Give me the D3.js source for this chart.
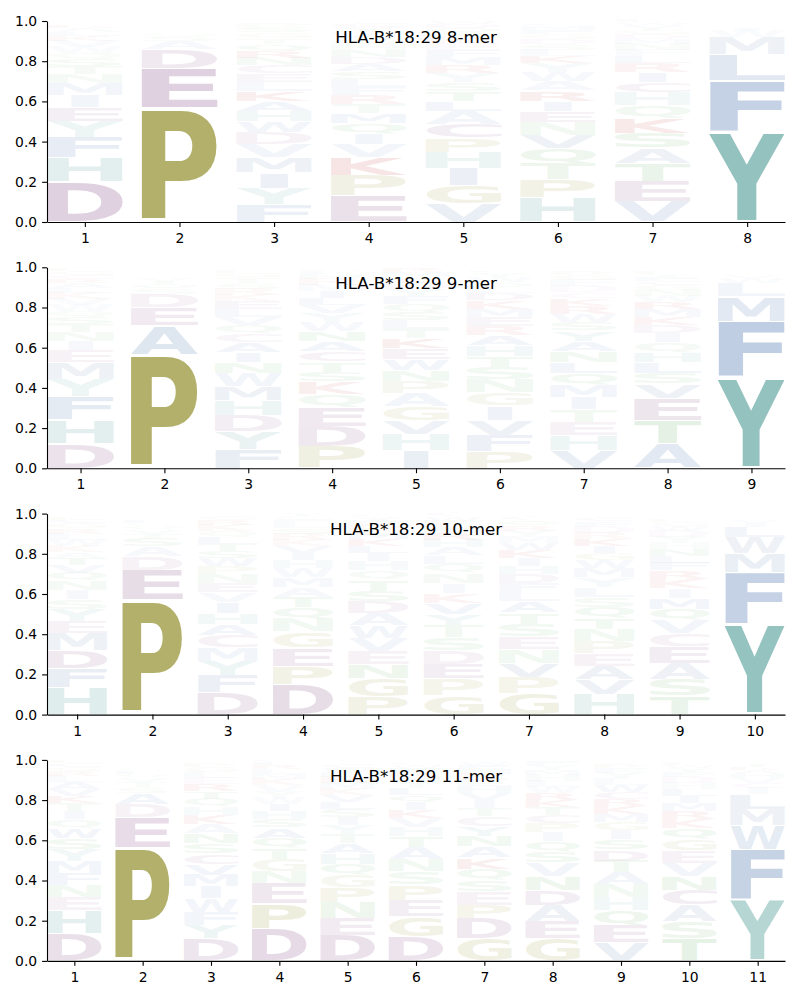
<!DOCTYPE html>
<html><head><meta charset="utf-8">
<script src="https://cdn.jsdelivr.net/npm/d3@7"></script>
<style>body{margin:0;background:#fff;} svg{display:block;}</style>
</head><body><svg id="chart" width="800" height="1000"></svg>
<script>
// ---------------- data ----------------
const titles = ["HLA-B*18:29 8-mer", "HLA-B*18:29 9-mer", "HLA-B*18:29 10-mer", "HLA-B*18:29 11-mer"];
const yTicks = [0, 0.2, 0.4, 0.6, 0.8, 1.0];

const letters8 = ["DHFYEIMNTSQWVKLARCGP", "PEDASQGTVLKRN", "FYIMVDWHAKLECNRQTGSP", "EPKVIQMTRFLSADNHGWYC",
  "VGIHPCALTSYRMFEKNQDW", "HPTQVNEIRAWYKLSDGFMC", "VETASKQHCIRLFNMDGYWP", "YFLMWIVAHCT"];
const heights8 = [
  [.20,.12,.10,.08,.07,.06,.06,.045,.04,.035,.03,.03,.03,.025,.02,.02,.015,.01,.01,.005],
  [.565,.20,.095,.04,.025,.015,.012,.01,.01,.008,.007,.007,.006],
  [.086,.082,.077,.075,.066,.058,.056,.052,.05,.05,.045,.042,.04,.037,.035,.033,.03,.028,.026,.022],
  [.13,.10,.09,.065,.055,.05,.05,.045,.045,.04,.04,.038,.037,.035,.033,.032,.03,.028,.026,.022],
  [.093,.09,.085,.08,.07,.068,.066,.05,.05,.045,.045,.04,.04,.035,.03,.03,.025,.025,.02,.015],
  [.12,.09,.08,.075,.068,.065,.055,.05,.05,.048,.045,.045,.035,.03,.03,.025,.025,.02,.02,.015],
  [.10,.10,.09,.078,.075,.074,.065,.065,.05,.05,.045,.035,.03,.03,.025,.025,.02,.02,.015,.015],
  [.45,.255,.13,.085,.03,.015,.01,.01,.005,.005,.005]
];

const letters9 = ["DHFYMEINTSQWVKLARCGP", "PAEDSQTVGLKRN", "FYDHMWNIACQVLEKRSTGP", "PDEQKSTCANWYVLIMHRFG",
  "IHVGAPNWEKTLSQFYDCMR", "PFVIGNSTHAREMKDLQWYC", "VHETIMQLNAYSWRKCDFGP", "ATEVSLHQIDKMRWNGCFYP", "YFMLWVIAHTC"];
const heights9 = [
  [.125,.118,.115,.085,.083,.06,.045,.045,.04,.035,.03,.03,.03,.03,.025,.025,.02,.02,.02,.015],
  [.565,.145,.09,.065,.03,.02,.015,.015,.012,.01,.008,.008,.007],
  [.095,.088,.08,.075,.068,.065,.055,.05,.05,.045,.04,.04,.04,.04,.03,.03,.03,.03,.02,.015],
  [.11,.10,.095,.065,.06,.05,.05,.05,.05,.05,.045,.045,.04,.035,.035,.03,.025,.03,.015,.015],
  [.09,.08,.07,.068,.065,.06,.055,.055,.052,.05,.045,.045,.042,.04,.038,.035,.032,.028,.025,.022],
  [.085,.08,.076,.07,.066,.065,.06,.055,.054,.05,.048,.045,.04,.04,.035,.03,.025,.025,.02,.015],
  [.088,.077,.065,.062,.062,.062,.058,.055,.055,.05,.05,.045,.04,.04,.035,.03,.03,.03,.025,.02],
  [.125,.115,.11,.07,.055,.052,.05,.048,.045,.042,.04,.04,.035,.03,.03,.025,.02,.02,.015,.015],
  [.45,.28,.125,.065,.025,.015,.012,.008,.005,.005,.005]
];

const letters10 = ["HFDMEYSINQVTAKWLRGCP", "PEDASTVQGLKR", "DFYMCAHIVENPWSTLQKRG", "DPEGNQTAMWHIVKRSLFCY",
  "PGNEVWDASTQHILKMRFYC", "GPEDSTYVKINQLAHRMFWC", "GPVNESTALFDHIKWMYRQC", "HVAEPNTQSLYMWGIKRDFC",
  "TSAECVQMIKRFLNHYDWGP", "YFMWLIVHAT"];
const heights10 = [
  [.135,.095,.09,.085,.06,.06,.05,.045,.045,.04,.04,.035,.03,.03,.03,.03,.025,.025,.02,.015],
  [.57,.15,.065,.05,.04,.025,.02,.02,.015,.015,.01,.01],
  [.108,.085,.072,.068,.06,.057,.055,.052,.05,.045,.045,.04,.04,.035,.035,.035,.03,.03,.025,.02],
  [.15,.092,.09,.08,.065,.055,.052,.05,.048,.045,.04,.035,.035,.03,.03,.03,.025,.02,.015,.015],
  [.09,.088,.07,.068,.065,.062,.058,.06,.055,.055,.045,.045,.04,.035,.035,.035,.03,.025,.02,.015],
  [.095,.085,.072,.068,.065,.06,.056,.055,.05,.05,.048,.045,.042,.04,.038,.035,.032,.028,.022,.018],
  [.105,.082,.07,.066,.064,.062,.058,.055,.048,.045,.045,.04,.04,.038,.035,.03,.03,.028,.025,.018],
  [.10,.072,.07,.063,.062,.058,.055,.055,.05,.05,.048,.045,.04,.035,.035,.035,.03,.03,.028,.02],
  [.092,.083,.082,.08,.066,.065,.058,.055,.05,.045,.04,.038,.035,.035,.03,.03,.03,.025,.02,.015],
  [.45,.255,.095,.08,.055,.02,.015,.01,.01,.005]
];

const letters11 = ["DHENFMYSWQITKVALRGCP", "PEDASTVQLGKRN", "DYFWIMVCSNAKHQTRELGP", "DPENGTQASHIWYVKMLRFC",
  "DENPGQHATYISLVKMRFWC", "DGEPSNATHVKIQLYMRFWC", "GDPESQKANYCTIVHLRMFW", "GEADNVSQIPCTKRWLHMYF",
  "VEQHNATDSIGMKRCWLYFP", "TSACNVEGQKRMILHDFYWP", "YFWMLICVHARTQK"];
const heights11 = [
  [.136,.116,.066,.06,.06,.058,.058,.055,.05,.045,.04,.04,.035,.035,.035,.03,.025,.02,.02,.015],
  [.565,.15,.065,.055,.03,.025,.02,.02,.015,.015,.01,.01,.01],
  [.11,.068,.066,.065,.06,.058,.055,.052,.05,.05,.048,.045,.04,.04,.035,.035,.03,.03,.025,.02],
  [.16,.125,.10,.062,.06,.055,.05,.05,.045,.04,.035,.03,.03,.03,.03,.025,.025,.02,.015,.015],
  [.128,.085,.078,.076,.06,.055,.052,.05,.045,.045,.04,.04,.035,.035,.03,.03,.03,.025,.02,.02],
  [.12,.10,.082,.078,.065,.06,.058,.055,.045,.045,.04,.04,.035,.035,.03,.025,.025,.02,.015,.015],
  [.11,.10,.068,.066,.058,.056,.055,.055,.052,.05,.048,.04,.04,.035,.035,.03,.03,.025,.02,.015],
  [.11,.085,.083,.075,.07,.066,.055,.05,.045,.045,.04,.04,.035,.035,.03,.03,.03,.025,.025,.02],
  [.09,.085,.075,.067,.065,.058,.058,.055,.05,.045,.042,.04,.04,.035,.035,.035,.03,.03,.025,.02],
  [.11,.085,.083,.075,.068,.066,.062,.058,.052,.045,.04,.04,.035,.035,.03,.03,.025,.02,.015,.015],
  [.305,.25,.12,.08,.075,.03,.025,.025,.02,.02,.015,.015,.01,.01]
];

// amino-acid colour groups
const groupLetters = ["AVLIMFW", "HY", "DEC", "KR", "NQST", "PG"];
const groupColors = ["#7e9bc5", "#79b3af", "#a57da5", "#d05a5a", "#7cba7c", "#b2b06b"];

// ---------------- drawing ----------------
const panelLetters = [letters8, letters9, letters10, letters11];
const panelHeights = [heights8, heights9, heights10, heights11];

const left = 47, right = 785;
const panelTop0 = 21, panelStep = 246.3, panelH = 201;
const vpad = 0.05, glyphWidth = 0.8;
const FONT = "'DejaVu Sans', 'Liberation Sans', sans-serif";

const colorOf = {};
groupLetters.forEach((g, i) => g.split("").forEach(c => colorOf[c] = groupColors[i]));

const svg = d3.select("#chart");
const canvas = document.createElement("canvas");
const ctx = canvas.getContext("2d");
const FS = 100;
ctx.font = `bold ${FS}px 'DejaVu Sans'`;
const metricCache = {};
function ink(ch) {
  if (!metricCache[ch]) {
    const mm = ctx.measureText(ch);
    metricCache[ch] = {l: mm.actualBoundingBoxLeft, r: mm.actualBoundingBoxRight,
                       a: mm.actualBoundingBoxAscent, d: mm.actualBoundingBoxDescent};
  }
  return metricCache[ch];
}

panelLetters.forEach((lettersArr, p) => {
  const heightsArr = panelHeights[p];
  const n = lettersArr.length;
  const top = panelTop0 + p * panelStep;
  const bottom = top + panelH;
  const x = d3.scaleLinear().domain([0.6, n + 0.4]).range([left, right]);
  const y = d3.scaleLinear().domain([0, 1]).range([bottom, top]);
  const maxVal = d3.max(heightsArr, col => d3.max(col));
  const g = svg.append("g");

  // stacked glyph records (largest at the bottom)
  const glyphs = [];
  lettersArr.forEach((str, i) => {
    const pos = i + 1;
    const items = str.split("").map((c, k) => ({c, v: heightsArr[i][k], k}));
    items.sort((a, b) => (b.v - a.v) || (a.k - b.k));
    let base = 0;
    items.forEach(it => {
      glyphs.push({pos, c: it.c, y0: base, h: it.v});
      base += it.v;
    });
  });

  const eInk = ink("E");
  const eW = eInk.l + eInk.r;
  g.append("g").selectAll("text").data(glyphs).join("text")
    .attr("font-family", FONT)
    .attr("font-weight", "bold")
    .attr("font-size", FS)
    .attr("fill", d => colorOf[d.c])
    .attr("fill-opacity", d => Math.min(1, d.h / maxVal))
    .attr("transform", d => {
      const m = ink(d.c);
      const inkW = m.l + m.r, inkH = m.a + m.d;
      const X0 = x(d.pos - glyphWidth / 2), X1 = x(d.pos + glyphWidth / 2);
      const boxW = X1 - X0;
      const yb = y(d.y0 + d.h * vpad / 2), yt = y(d.y0 + d.h - d.h * vpad / 2);
      const boxH = yb - yt;
      const sx = Math.min(boxW / inkW, boxW / eW);
      const sy = boxH / inkH;
      const offX = (boxW - sx * inkW) / 2;
      return `translate(${X0 + offX},${yt}) scale(${sx},${sy}) translate(${m.l},${m.a})`;
    })
    .text(d => d.c);

  // axes
  const yAxis = d3.axisLeft(y).tickValues(yTicks).tickFormat(d3.format(".1f"))
    .tickSize(4.9).tickSizeOuter(0).tickPadding(4.9);
  const xAxis = d3.axisBottom(x).tickValues(d3.range(1, n + 1)).tickFormat(d3.format("d"))
    .tickSize(4.9).tickSizeOuter(0).tickPadding(6.2);
  const ya = g.append("g").attr("transform", `translate(${left},0)`).call(yAxis);
  const xa = g.append("g").attr("transform", `translate(0,${bottom})`).call(xAxis);
  [ya, xa].forEach(a => {
    a.selectAll("path.domain").attr("stroke", "#000").attr("stroke-width", 1.1);
    a.selectAll(".tick line").attr("stroke", "#000").attr("stroke-width", 1.1);
    a.selectAll(".tick text").attr("font-family", FONT).attr("font-size", 13.9).attr("fill", "#000");
  });

  g.append("text")
    .attr("x", (left + right) / 2)
    .attr("y", top + 21.7)
    .attr("text-anchor", "middle")
    .attr("font-family", FONT)
    .attr("font-size", 16.67)
    .attr("fill", "#000")
    .text(titles[p]);
});
</script>
</body></html>
